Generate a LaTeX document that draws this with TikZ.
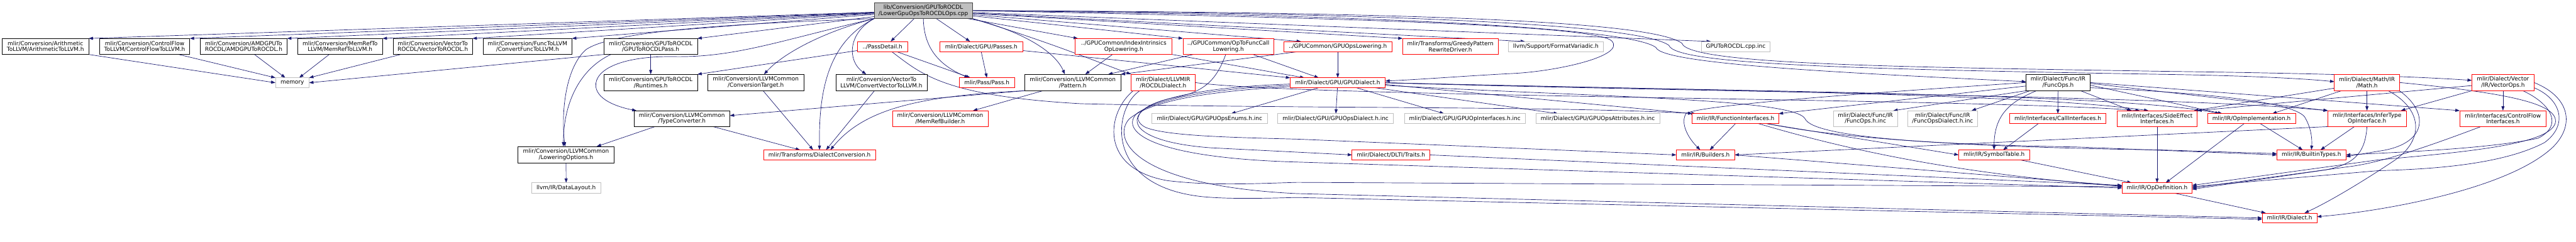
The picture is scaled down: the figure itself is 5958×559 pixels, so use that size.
\documentclass[tikz,border=0pt]{standalone}
\usepackage{fontspec}
\setmainfont{DejaVu Sans}
\usetikzlibrary{arrows.meta}
\pgfdeclarelayer{bg}
\pgfsetlayers{bg,main}
\definecolor{edgec}{HTML}{191970}
\definecolor{grayb}{HTML}{BFBFBF}
\definecolor{rootb}{HTML}{404040}
\definecolor{redb}{HTML}{FF0000}
\newcommand{\mkbox}[7]{\node[#1, minimum width={(#5)-(#3)}, minimum height={(#6)-(#4)}] (#2) at ({((#3)+(#5))/2},{((#4)+(#6))/2}) {#7};}
\tikzset{
  box/.style={rectangle, inner sep=0pt, outer sep=0pt, align=center, fill=white, line width=1pt, font=\fontsize{13pt}{14pt}\selectfont, text=black},
  blkbox/.style={box, draw=black},
  redbox/.style={box, draw=redb},
  graybox/.style={box, draw=grayb},
  rootbox/.style={box, draw=rootb, fill=grayb},
  arr/.style={draw=edgec, line width=1pt, -{Triangle[length=10pt,width=7pt]}}
}
\begin{document}
\begin{tikzpicture}[x=1pt,y=-1pt]
\useasboundingbox (0,0) rectangle (5958,559);
% root
\mkbox{rootbox}{root}{2022}{6}{2249}{43}{lib/Conversion/GPUToROCDL\\/LowerGpuOpsToROCDLOps.cpp}
% row 1
\mkbox{blkbox}{arith}{5}{89}{205}{126}{mlir/Conversion/Arithmetic\\ToLLVM/ArithmeticToLLVM.h}
\mkbox{blkbox}{cf}{230}{89}{439}{126}{mlir/Conversion/ControlFlow\\ToLLVM/ControlFlowToLLVM.h}
\mkbox{blkbox}{amdgpu}{463}{89}{664}{126}{mlir/Conversion/AMDGPUTo\\ROCDL/AMDGPUToROCDL.h}
\mkbox{blkbox}{memref}{688}{89}{885}{126}{mlir/Conversion/MemRefTo\\LLVM/MemRefToLLVM.h}
\mkbox{blkbox}{vecrocdl}{909}{89}{1093}{126}{mlir/Conversion/VectorTo\\ROCDL/VectorToROCDL.h}
\mkbox{blkbox}{functollvm}{1117}{89}{1323}{126}{mlir/Conversion/FuncToLLVM\\/ConvertFuncToLLVM.h}
\mkbox{blkbox}{rocdlpass}{1397}{89}{1613}{126}{mlir/Conversion/GPUToROCDL\\/GPUToROCDLPass.h}
\mkbox{redbox}{passdetail}{1983}{96}{2099}{120}{../PassDetail.h}
\mkbox{redbox}{passes}{2174}{96}{2365}{120}{mlir/Dialect/GPU/Passes.h}
\mkbox{redbox}{indexintr}{2487}{89}{2711}{126}{../GPUCommon/IndexIntrinsics\\OpLowering.h}
\mkbox{redbox}{optofunc}{2736}{89}{2946}{126}{../GPUCommon/OpToFuncCall\\Lowering.h}
\mkbox{redbox}{gpuopslow}{2969}{96}{3219}{120}{../GPUCommon/GPUOpsLowering.h}
\mkbox{redbox}{greedy}{3244}{89}{3465}{126}{mlir/Transforms/GreedyPattern\\RewriteDriver.h}
\mkbox{graybox}{formatv}{3489}{96}{3708}{120}{llvm/Support/FormatVariadic.h}
\mkbox{graybox}{cppinc}{3935}{96}{4094}{120}{GPUToROCDL.cpp.inc}
% row 2
\mkbox{graybox}{memory}{637}{180}{715}{203}{memory}
\mkbox{blkbox}{runtimes}{1397}{172}{1613}{210}{mlir/Conversion/GPUToROCDL\\/Runtimes.h}
\mkbox{blkbox}{convtarget}{1637}{172}{1859}{210}{mlir/Conversion/LLVMCommon\\/ConversionTarget.h}
\mkbox{blkbox}{vec2llvm}{1933}{172}{2144}{210}{mlir/Conversion/VectorTo\\LLVM/ConvertVectorToLLVM.h}
\mkbox{redbox}{pass}{2219}{180}{2346}{203}{mlir/Pass/Pass.h}
\mkbox{blkbox}{pattern}{2370}{172}{2592}{210}{mlir/Conversion/LLVMCommon\\/Pattern.h}
\mkbox{redbox}{rocdl}{2616}{172}{2764}{210}{mlir/Dialect/LLVMIR\\/ROCDLDialect.h}
\mkbox{redbox}{gpudialect}{2984}{180}{3204}{203}{mlir/Dialect/GPU/GPUDialect.h}
\mkbox{blkbox}{funcops}{4686}{172}{4834}{210}{mlir/Dialect/Func/IR\\/FuncOps.h}
\mkbox{redbox}{math}{5399}{172}{5550}{210}{mlir/Dialect/Math/IR\\/Math.h}
\mkbox{redbox}{vectorops}{5717}{172}{5861}{210}{mlir/Dialect/Vector\\/IR/VectorOps.h}
% row 3
\mkbox{blkbox}{typeconv}{1466}{256}{1688}{293}{mlir/Conversion/LLVMCommon\\/TypeConverter.h}
\mkbox{redbox}{memrefbuilder}{2064}{256}{2285}{293}{mlir/Conversion/LLVMCommon\\/MemRefBuilder.h}
\mkbox{graybox}{enums}{2664}{263}{2931}{286}{mlir/Dialect/GPU/GPUOpsEnums.h.inc}
\mkbox{graybox}{opsdialinc}{2955}{263}{3223}{286}{mlir/Dialect/GPU/GPUOpsDialect.h.inc}
\mkbox{graybox}{opifinc}{3248}{263}{3528}{286}{mlir/Dialect/GPU/GPUOpInterfaces.h.inc}
\mkbox{graybox}{attrsinc}{3552}{263}{3839}{286}{mlir/Dialect/GPU/GPUOpsAttributes.h.inc}
\mkbox{redbox}{funcifaces}{3914}{263}{4114}{286}{mlir/IR/FunctionInterfaces.h}
\mkbox{graybox}{funcopsinc}{4240}{256}{4389}{293}{mlir/Dialect/Func/IR\\/FuncOps.h.inc}
\mkbox{graybox}{funcdialinc}{4412}{256}{4574}{293}{mlir/Dialect/Func/IR\\/FuncOpsDialect.h.inc}
\mkbox{redbox}{callifaces}{4648}{263}{4871}{286}{mlir/Interfaces/CallInterfaces.h}
\mkbox{redbox}{sideeffect}{4896}{256}{5082}{293}{mlir/Interfaces/SideEffect\\Interfaces.h}
\mkbox{redbox}{opimpl}{5106}{263}{5309}{286}{mlir/IR/OpImplementation.h}
\mkbox{redbox}{infertype}{5384}{256}{5565}{293}{mlir/Interfaces/InferType\\OpInterface.h}
\mkbox{redbox}{cfifaces}{5689}{256}{5889}{293}{mlir/Interfaces/ControlFlow\\Interfaces.h}
% row 4
\mkbox{blkbox}{lowering}{1198}{339}{1420}{377}{mlir/Conversion/LLVMCommon\\/LoweringOptions.h}
\mkbox{redbox}{dialconv}{1766}{347}{2025}{370}{mlir/Transforms/DialectConversion.h}
\mkbox{redbox}{dlti}{3127}{347}{3307}{370}{mlir/Dialect/DLTI/Traits.h}
\mkbox{redbox}{builders}{3877}{347}{4012}{370}{mlir/IR/Builders.h}
\mkbox{redbox}{symtab}{4530}{347}{4694}{370}{mlir/IR/SymbolTable.h}
\mkbox{redbox}{builtintypes}{5266}{347}{5426}{370}{mlir/IR/BuiltinTypes.h}
% row 5, 6
\mkbox{graybox}{datalayout}{1230}{423}{1389}{447}{llvm/IR/DataLayout.h}
\mkbox{redbox}{opdef}{4908}{423}{5070}{447}{mlir/IR/OpDefinition.h}
\mkbox{redbox}{dialect}{5232}{493}{5359}{516}{mlir/IR/Dialect.h}

\begin{pgfonlayer}{bg}
% root -> row 1 left
\draw[arr] (root) -- (arith.north east);
\draw[arr] (root) -- (cf.north east);
\draw[arr] (root) -- (amdgpu.north east);
\draw[arr] (root) -- (memref.north east);
\draw[arr] (root) -- (vecrocdl.north east);
\draw[arr] (root) -- (functollvm.north east);
\draw[arr] (root) -- (rocdlpass.north east);
% root curves to the left
\draw[arr] (root.south west) .. controls (1700,55) and (1420,70) .. (1355,115) .. controls (1305,160) and (1298,270) .. ([xshift=-2pt]lowering.north);
\draw[arr] (root.south west) .. controls (1800,95) and (1700,133) .. (1560,131) .. controls (1440,129) and (1375,160) .. (1378,200) .. controls (1382,235) and (1440,250) .. ([xshift=-105pt]typeconv.north);
\draw[arr] (root.south west) .. controls (1900,75) and (1810,125) .. ([xshift=19pt]convtarget.north);
\draw[arr] (root.south west) .. controls (1920,95) and (1893,200) .. (dialconv.north);
\draw[arr] (root.south west) .. controls (1962,75) and (1958,140) .. ([xshift=-35pt]vec2llvm.north);
% root -> middle
\draw[arr] ([xshift=-21pt]root.south) -- ([xshift=19pt]passdetail.north);
\draw[arr] ([xshift=30pt]root.south) -- ([xshift=-26pt]passes.north);
\draw[arr] (root.south) .. controls (2137,110) and (2170,150) .. ([xshift=-42pt]pass.north);
\draw[arr] (root.south east) .. controls (2370,75) and (2440,120) .. ([xshift=-18pt]pattern.north);
\draw[arr] (root.south east) .. controls (2420,95) and (2530,140) .. (rocdl.north west);
\draw[arr] (root) -- ([xshift=6pt]indexintr.north west);
\draw[arr] (root) -- (optofunc.north west);
\draw[arr] (root) -- ([xshift=40pt]gpuopslow.north west);
\draw[arr] (root) -- (greedy.north west);
\draw[arr] (root) -- ([xshift=38pt]formatv.north west);
\draw[arr] (root) -- ([xshift=22pt]cppinc.north west);
\draw[arr] (root.east) .. controls (3000,40) and (3690,55) .. (3728,95) .. controls (3760,130) and (3600,165) .. (3500,170) .. controls (3400,175) and (3300,183) .. ([yshift=4pt]gpudialect.east);
\draw[arr] (root.east) .. controls (3300,35) and (3780,70) .. (3830,110) .. controls (3845,150) and (4300,170) .. ([yshift=2pt]funcops.west);
\draw[arr] (root.east) .. controls (3300,30) and (3800,60) .. (3860,105) .. controls (3875,150) and (4300,160) .. (5000,172) .. controls (5200,175) and (5330,182) .. ([yshift=2pt]math.west);
\draw[arr] (root.east) .. controls (3300,28) and (3820,50) .. (3890,100) .. controls (3905,150) and (4400,155) .. (5000,165) .. controls (5400,170) and (5600,178) .. ([yshift=5pt]vectorops.west);
% memory
\draw[arr] (arith.south east) -- (memory.west);
\draw[arr] ([xshift=-26pt]cf.south east) -- (memory.north west);
\draw[arr] ([xshift=25pt]amdgpu.south) -- ([xshift=-16pt]memory.north);
\draw[arr] ([xshift=-25pt]memref.south) -- ([xshift=16pt]memory.north);
\draw[arr] ([xshift=-74pt]vecrocdl.south) -- (memory.north east);
\draw[arr] (rocdlpass.south west) -- (memory.east);
% GPUToROCDLPass
\draw[arr] (rocdlpass) -- (runtimes);
\draw[arr] ([xshift=-92pt]rocdlpass.south) .. controls (1340,160) and (1303,240) .. ([xshift=-6pt]lowering.north);
% PassDetail, Passes
\draw[arr] ([yshift=-9pt]passdetail.west) -- (runtimes.north east);
\draw[arr] ([xshift=34pt]passdetail.south) -- ([xshift=-38pt]pass.north);
\draw[arr] ([xshift=22pt]passdetail.south) .. controls (2130,170) and (2180,222) .. (2500,240) .. controls (3000,252) and (3600,245) .. ([xshift=8pt]funcifaces.north west);
\draw[arr] (passes.south) -- (pass.north);
\draw[arr] ([yshift=-9pt]passes.east) -- (gpudialect.north west);
% LLVMCommon
\draw[arr] ([xshift=17pt]convtarget.south) -- ([xshift=-15pt]dialconv.north);
\draw[arr] ([xshift=-62pt]typeconv.south) -- ([xshift=71pt]lowering.north);
\draw[arr] ([xshift=72pt]typeconv.south) -- ([xshift=-45pt]dialconv.north);
\draw[arr] ([xshift=-16pt]vec2llvm.south) -- ([xshift=15pt]dialconv.north);
\draw[arr] (pattern.south west) .. controls (2130,222) and (2000,250) .. ([xshift=25pt]dialconv.north);
\draw[arr] (pattern.south west) -- ([yshift=7pt]typeconv.east);
\draw[arr] ([xshift=-69pt]pattern.south) -- ([xshift=76pt]memrefbuilder.north);
\draw[arr] (lowering) -- (datalayout);
% GPUCommon
\draw[arr] ([xshift=-26pt]indexintr.south) -- ([xshift=29pt]pattern.north);
\draw[arr] (indexintr.south east) -- ([xshift=33pt]gpudialect.north west);
\draw[arr] ([xshift=-81pt]optofunc.south) -- ([xshift=82pt]pattern.north);
\draw[arr] ([xshift=57pt]optofunc.south) -- ([xshift=66pt]gpudialect.north west);
\draw[arr] ([xshift=-6pt]optofunc.south) .. controls (2815,180) and (2790,212) .. (2720,225) .. controls (2640,240) and (2610,275) .. (2650,295) .. controls (2700,315) and (2850,318) .. (3000,322) -- (builders.west);
\draw[arr] ([xshift=30pt]gpuopslow.south west) -- (pattern.north east);
\draw[arr] (gpuopslow) -- (gpudialect);
% GPUDialect
\draw[arr] ([xshift=-44pt]gpudialect.south) -- ([xshift=50pt]enums.north);
\draw[arr] (gpudialect) -- (opsdialinc);
\draw[arr] ([xshift=43pt]gpudialect.south) -- ([xshift=-48pt]opifinc.north);
\draw[arr] ([xshift=86pt]gpudialect.south) -- ([xshift=-92pt]attrsinc.north);
\draw[arr] ([yshift=-4pt]gpudialect.east) -- (funcifaces.north west);
\draw[arr] ([yshift=-3pt]gpudialect.west) .. controls (2820,200) and (2700,220) .. (2650,250) .. controls (2600,285) and (2640,330) .. (2800,342) -- (dlti.west);
\draw[arr] ([yshift=-6pt]gpudialect.west) .. controls (2800,205) and (2680,228) .. (2630,262) .. controls (2590,300) and (2650,365) .. (3000,375) -- (opdef.west);
\draw[arr] ([yshift=-9pt]gpudialect.west) .. controls (2780,212) and (2660,235) .. (2612,275) .. controls (2570,320) and (2620,430) .. (3000,448) -- (dialect.west);
\draw[arr] (gpudialect.east) .. controls (4000,212) and (4900,215) .. ([xshift=28pt]opimpl.north west);
\draw[arr] (gpudialect.east) .. controls (4000,215) and (5000,220) .. (infertype.north west);
\draw[arr] (gpudialect.east) .. controls (4000,210) and (4700,218) .. ([xshift=-20pt]sideeffect.north);
\draw[arr] ([yshift=-6pt]gpudialect.east) .. controls (3700,225) and (4150,228) .. (4175,275) .. controls (4195,320) and (4500,335) .. (4800,340) -- (builtintypes.west);
% ROCDLDialect
\draw[arr] ([xshift=5pt]rocdl.south west) .. controls (2560,260) and (2540,390) .. (2700,418) .. controls (2800,430) and (2900,425) .. (3000,422) -- ([yshift=3pt]opdef.west);
\draw[arr] ([xshift=20pt]rocdl.south west) .. controls (2575,250) and (2550,430) .. (2780,455) .. controls (2850,462) and (2950,458) .. (3000,457) -- ([yshift=-3pt]dialect.west);
\draw[arr] (rocdl.east) .. controls (3000,225) and (4600,228) .. ([xshift=-40pt]sideeffect.north);
% FuncOps
\draw[arr] (funcops.south west) -- ([xshift=-10pt]funcopsinc.north east);
\draw[arr] ([xshift=-65pt]funcops.south) -- ([xshift=67pt]funcdialinc.north);
\draw[arr] (funcops) -- (callifaces);
\draw[arr] ([xshift=52pt]funcops.south) -- ([xshift=-59pt]sideeffect.north);
\draw[arr] ([xshift=-50pt]funcops.south) .. controls (4650,235) and (4612,265) .. (symtab.north);
\draw[arr] (funcops.west) .. controls (4400,210) and (3950,240) .. (3900,262) .. controls (3885,285) and (3905,320) .. ([xshift=-12pt]builders.north);
\draw[arr] ([yshift=-8pt]funcops.west) -- (funcifaces.north east);
\draw[arr] ([yshift=-6pt]funcops.east) -- ([xshift=34pt]opimpl.north west);
\draw[arr] ([yshift=-2pt]funcops.east) -- (infertype.north west);
\draw[arr] (funcops.east) -- (cfifaces.north west);
\draw[arr] ([yshift=-12pt]funcops.east) .. controls (5100,215) and (5300,235) .. (5330,270) .. controls (5345,295) and (5348,320) .. (builtintypes.north);
% interfaces
\draw[arr] ([xshift=-45pt]callifaces.south) -- ([xshift=21pt]symtab.north);
\draw[arr] ([xshift=60pt]symtab.south) -- ([xshift=-59pt]opdef.north);
\draw[arr] (funcifaces) -- (symtab.west);
\draw[arr] ([xshift=53pt]funcifaces.south) .. controls (4250,340) and (4500,400) .. ([yshift=4pt]opdef.west);
\draw[arr] (funcifaces.south) -- ([xshift=10pt]builders.north);
\draw[arr] ([xshift=73pt]funcifaces.south) .. controls (4300,330) and (4700,343) .. (5000,347) -- ([yshift=3pt]builtintypes.west);
\draw[arr] (sideeffect) -- (opdef);
\draw[arr] ([xshift=-17pt]opimpl.south) -- ([xshift=20pt]opdef.north);
\draw[arr] ([xshift=20pt]opimpl.south) -- ([xshift=-20pt]builtintypes.north);
\draw[arr] ([xshift=-29pt]infertype.south) -- ([xshift=21pt]builtintypes.north);
\draw[arr] (infertype.south) .. controls (5470,360) and (5440,380) .. (5380,393) -- ([yshift=-3pt]opdef.east);
\draw[arr] (infertype.south west) -- (builders.east);
\draw[arr] ([xshift=-51pt]cfifaces.south) .. controls (5600,345) and (5500,378) .. (5430,386) -- (opdef.east);
% VectorOps
\draw[arr] (vectorops) -- (cfifaces);
\draw[arr] (vectorops.south west) -- ([xshift=-12pt]infertype.north east);
\draw[arr] ([yshift=-7pt]vectorops.west) -- (sideeffect.north east);
\draw[arr] ([xshift=46pt]vectorops.south) .. controls (5900,240) and (5930,290) .. (5870,320) .. controls (5750,345) and (5550,352) .. (builtintypes.east);
\draw[arr] (vectorops.east) .. controls (5945,225) and (5955,290) .. (5905,340) .. controls (5800,440) and (5500,490) .. ([yshift=3pt]dialect.east);
\draw[arr] ([yshift=-12pt]vectorops.east) .. controls (5925,230) and (5940,290) .. (5885,330) .. controls (5780,385) and (5600,392) .. (5500,395) -- ([yshift=3pt]opdef.east);
% Math
\draw[arr] ([yshift=-13pt]math.west) -- ([xshift=-8pt]sideeffect.north east);
\draw[arr] ([xshift=-59pt]math.south) -- ([xshift=48pt]opimpl.north);
\draw[arr] (math) -- (infertype);
\draw[arr] ([xshift=49pt]math.south) .. controls (5600,250) and (5610,320) .. (5540,370) .. controls (5450,430) and (5380,470) .. ([xshift=-29pt]dialect.north east);
\draw[arr] (math.east) .. controls (5800,215) and (5920,240) .. (5910,285) .. controls (5895,335) and (5700,352) .. (5500,370) -- ([yshift=6pt]opdef.east);
\draw[arr] ([xshift=75pt]math.south) .. controls (5620,260) and (5615,335) .. (5500,350) -- ([yshift=-4pt]builtintypes.east);
% bottom
\draw[arr] ([xshift=40pt]opdef.south) -- ([xshift=-55pt]dialect.north);
\draw[arr] (dlti.east) -- ([yshift=6pt]opdef.west);
\draw[arr] (builders.east) -- ([yshift=5pt]opdef.west);
\end{pgfonlayer}
\end{tikzpicture}
\end{document}
